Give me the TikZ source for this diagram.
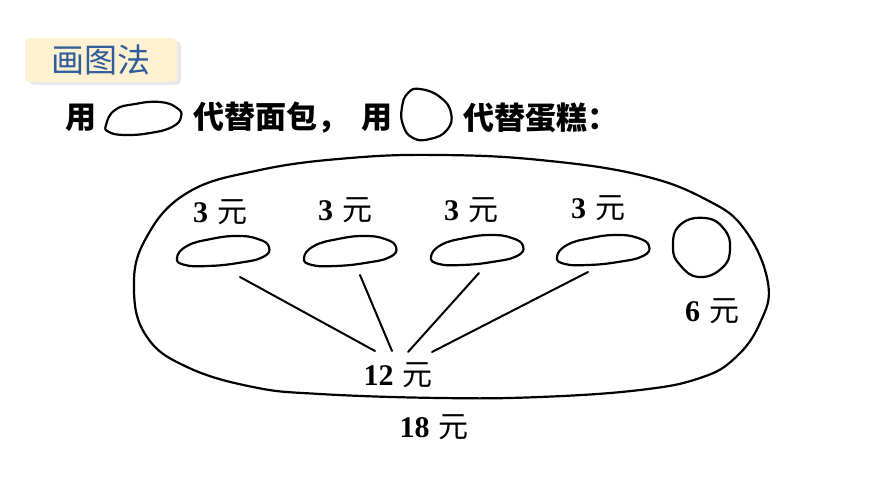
\documentclass[tikz,border=0pt]{standalone}
\usepackage{fontspec}
\setmainfont{Liberation Serif}
\newfontfamily\cjk{Noto Sans CJK SC}
\usetikzlibrary{shadows}
\definecolor{hdrfill}{HTML}{FDF1D2}
\definecolor{hdrtext}{HTML}{2E5C9C}
\tikzset{
  lbl/.style={font=\fontsize{30}{34}\selectfont, inner sep=0pt},
  line/.style={line width=2pt, line cap=round},
  shapeln/.style={line width=2.2pt, line join=round},
  body/.style={font=\cjk\bfseries\fontsize{31}{34}\selectfont, inner sep=0pt, text=black}
}
\newcommand{\yuan}[1]{\textbf{#1}\hspace{0.3em}{\cjk 元}}
\begin{document}
\begin{tikzpicture}[x=1pt,y=-1pt]
\useasboundingbox (0,0) rectangle (870,489);
% header
\node[fill=hdrfill, rounded corners=5pt, minimum width=152pt, minimum height=44pt,
      drop shadow={shadow xshift=4pt, shadow yshift=-3pt, opacity=0.18, fill=gray},
      text=hdrtext, font=\cjk\fontsize{33}{36}\selectfont, inner sep=0pt] (hdr) at (101,60) {画图法};
% instruction line
\node[body] (yong1) at (81,118) {用};
\draw[shapeln] plot[smooth cycle, tension=0.8] coordinates
  {(106,125) (115,110) (135,104) (160,102) (177,108) (181,117) (172,127) (150,133) (125,135) (109,132)};
\node[body, anchor=west] (t1) at (193,118) {代替面包，};
\node[body] (yong2) at (377,118) {用};
\draw[shapeln] plot[smooth cycle, tension=0.8] coordinates
  {(420,89) (440,97) (451,113) (447,130) (430,139) (413,138) (403,125) (402,107) (408,93)};
\node[body, anchor=west] (t2) at (463,118) {代替蛋糕：};
% big outline
\draw[shapeln] plot[smooth cycle, tension=0.7] coordinates
  {(440,155) (540,160) (640,175) (707,200) (745,230) (768,283) (760,323) (735,358) (700,378) (640,390) (540,397) (440,398) (320,394) (253,387) (187,367) (147,337) (134,290) (145,240) (187,193) (260,170) (350,158)};
% breads
\foreach \n/\cx/\cy in {b1/223/251, b2/350/251, b3/477/250, b4/603/250}{
  \draw[shapeln, shift={(\cx,\cy)}] plot[smooth cycle, tension=0.8] coordinates
   {(-46,7) (-36,-5) (-12,-12) (14,-15) (35,-12) (46,-4) (40,6) (15,12) (-15,15) (-38,14)};
  \coordinate (\n) at (\cx,\cy);
}
% cake
\draw[shapeln, shift={(702,247)}] plot[smooth cycle, tension=0.8] coordinates
  {(3,-29) (22,-18) (28,2) (20,21) (-3,30) (-22,18) (-29,0) (-22,-22)};
\coordinate (cake) at (702,247);
% labels
\node[lbl] (l1) at (220,212) {\yuan{3}};
\node[lbl] (l2) at (345,210) {\yuan{3}};
\node[lbl] (l3) at (471,210) {\yuan{3}};
\node[lbl] (l4) at (598,208) {\yuan{3}};
\node[lbl] (l6) at (712,311) {\yuan{6}};
\node[lbl] (l12) at (398,375) {\yuan{12}};
\node[lbl] (l18) at (434,427) {\yuan{18}};
% connectors
\coordinate (s1) at (240,277); \coordinate (e1) at (375,351);
\coordinate (s2) at (360,275); \coordinate (e2) at (392,351);
\coordinate (s3) at (479,273); \coordinate (e3) at (408,352);
\coordinate (s4) at (588,272); \coordinate (e4) at (432,352);
\draw[line] (s1) -- (e1);
\draw[line] (s2) -- (e2);
\draw[line] (s3) -- (e3);
\draw[line] (s4) -- (e4);
\end{tikzpicture}
\end{document}
